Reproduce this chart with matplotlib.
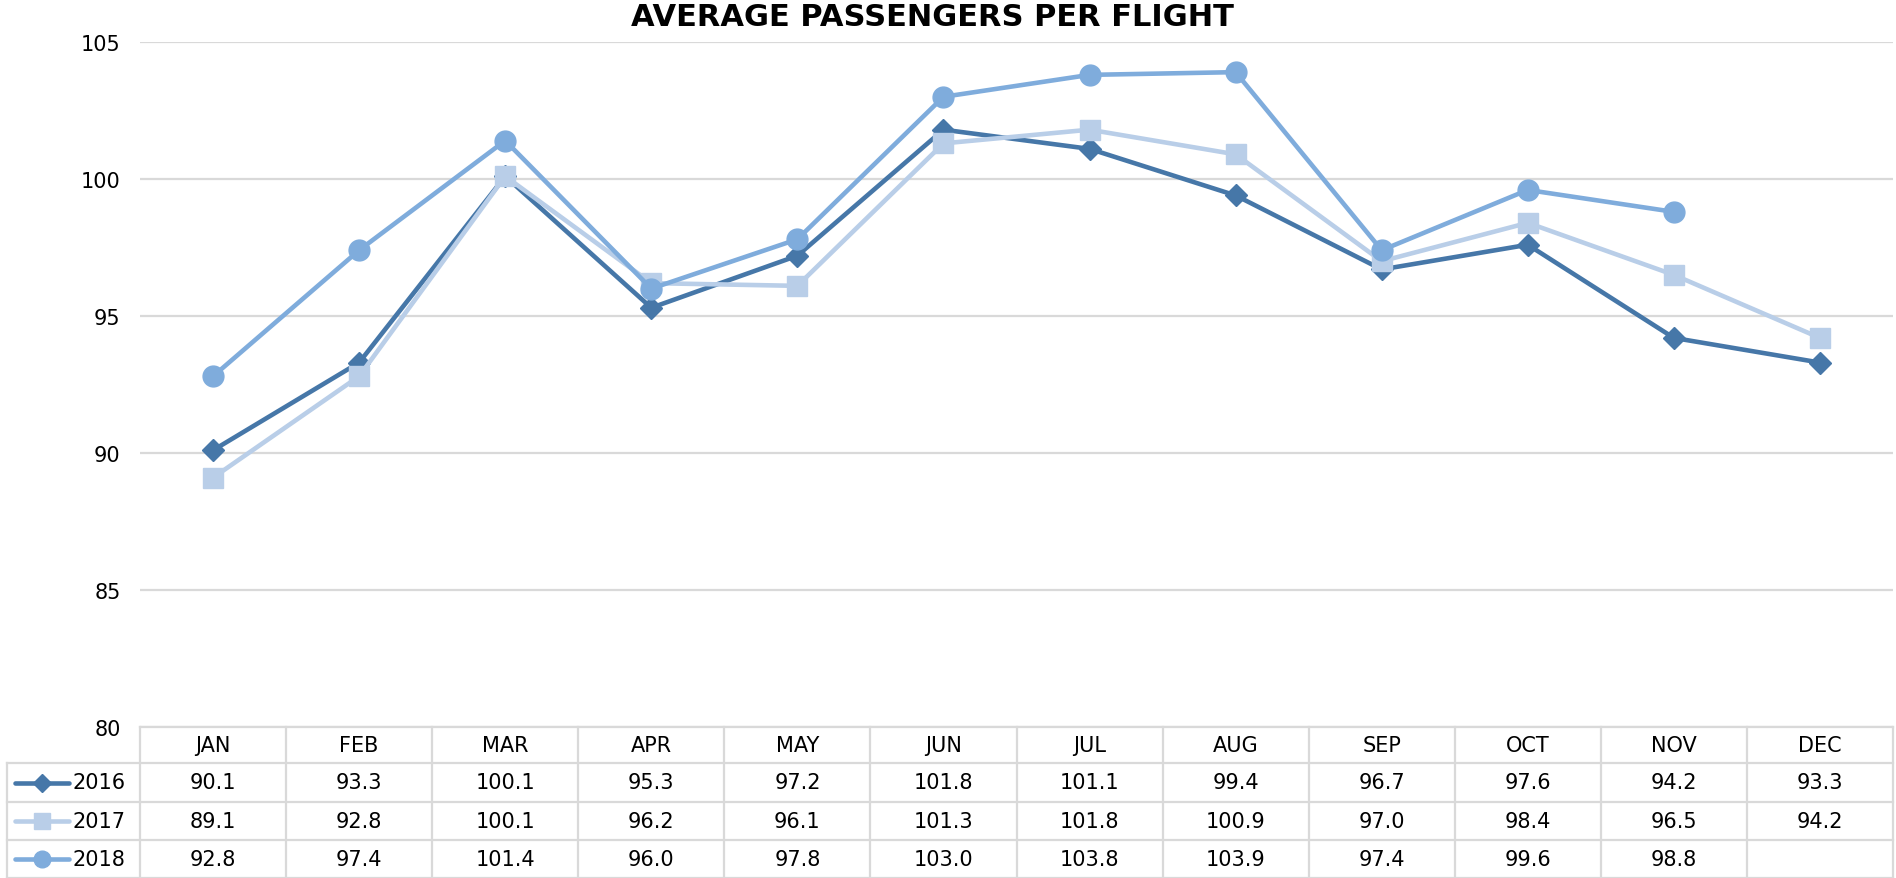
import numpy as np
import matplotlib
matplotlib.use('Agg')
import matplotlib.pyplot as plt

months = ['JAN', 'FEB', 'MAR', 'APR', 'MAY', 'JUN', 'JUL', 'AUG', 'SEP', 'OCT', 'NOV', 'DEC']
years = ['2016', '2017', '2018']
pax_2016 = [90.1, 93.3, 100.1, 95.3, 97.2, 101.8, 101.1, 99.4, 96.7, 97.6, 94.2, 93.3]
pax_2017 = [89.1, 92.8, 100.1, 96.2, 96.1, 101.3, 101.8, 100.9, 97.0, 98.4, 96.5, 94.2]
pax_2018 = [92.8, 97.4, 101.4, 96.0, 97.8, 103.0, 103.8, 103.9, 97.4, 99.6, 98.8, None]
y_ticks = [80, 85, 90, 95, 100, 105]

series = [pax_2016, pax_2017, pax_2018]
colors = ['#4677A8', '#B9CEE8', '#7FACDC']
markers = ['D', 's', 'o']
msizes = [11, 15, 15]
grid_col = '#D9D9D9'
fs = 15  # table / tick font size

plt.rcParams['font.family'] = ['DejaVu Sans']

W, H = 1896, 879
fig = plt.figure(figsize=(W / 100, H / 100), dpi=100)

# main plot area (pixel layout of the reference)
left, right, top, bottom = 140, 1893, 43, 728
ax = fig.add_axes([left / W, 1 - bottom / H, (right - left) / W, (bottom - top) / H])
x = np.arange(len(months))
for vals, c, m, ms in zip(series, colors, markers, msizes):
    v = np.array([np.nan if a is None else a for a in vals], dtype=float)
    ax.plot(x, v, color=c, lw=3.3, marker=m, ms=ms, mec=c, mfc=c, zorder=3)

ax.set_xlim(-0.5, len(months) - 0.5)
ax.set_ylim(y_ticks[0], y_ticks[-1])
ax.set_yticks(y_ticks)
ax.set_xticks([])
for s in ax.spines.values():
    s.set_visible(False)
ax.yaxis.grid(True, color=grid_col, lw=1.6)
ax.set_axisbelow(True)
ax.tick_params(axis='y', length=0, pad=14, labelsize=fs, labelcolor='#000000')

fig.text(932 / W, 1 - 18 / H, 'AVERAGE PASSENGERS PER FLIGHT', ha='center', va='center',
         fontsize=22, fontweight='bold')

# data table underneath
tab_left = 7
tab = fig.add_axes([tab_left / W, 0, (right - tab_left) / W, (H - bottom) / H])
tw, th = right - tab_left, H - bottom
tab.set_xlim(0, tw)
tab.set_ylim(th, 0)
tab.axis('off')
hdr_w = left - tab_left
col_w = (right - left) / len(months)
row_y = [0, 36, 75, 113, th]

lkw = dict(color=grid_col, lw=1.6, clip_on=False)
# horizontal lines
tab.plot([hdr_w, tw], [0, 0], **lkw)
for yy in row_y[1:]:
    tab.plot([0, tw], [yy, yy], **lkw)
# vertical lines
tab.plot([0, 0], [row_y[1], th], **lkw)
for i in range(len(months) + 1):
    xx = hdr_w + i * col_w
    tab.plot([xx, xx], [0, th], **lkw)

for i, mname in enumerate(months):
    tab.text(hdr_w + (i + 0.5) * col_w, (row_y[0] + row_y[1]) / 2, mname,
             ha='center', va='center', fontsize=fs)

for r, (yr, vals, c, m, ms) in enumerate(zip(years, series, colors, markers, msizes)):
    yc = (row_y[r + 1] + row_y[r + 2]) / 2
    tab.plot([8, 62], [yc, yc], color=c, lw=3.3, solid_capstyle='round', clip_on=False)
    tab.plot([35], [yc], marker=m, ms=ms * 0.8, color=c, clip_on=False)
    tab.text(66, yc, yr, ha='left', va='center', fontsize=fs)
    for i, v in enumerate(vals):
        if v is None:
            continue
        tab.text(hdr_w + (i + 0.5) * col_w, yc, f'{v:.1f}', ha='center', va='center', fontsize=fs)

fig.savefig('out.png', dpi=100, facecolor='white')
